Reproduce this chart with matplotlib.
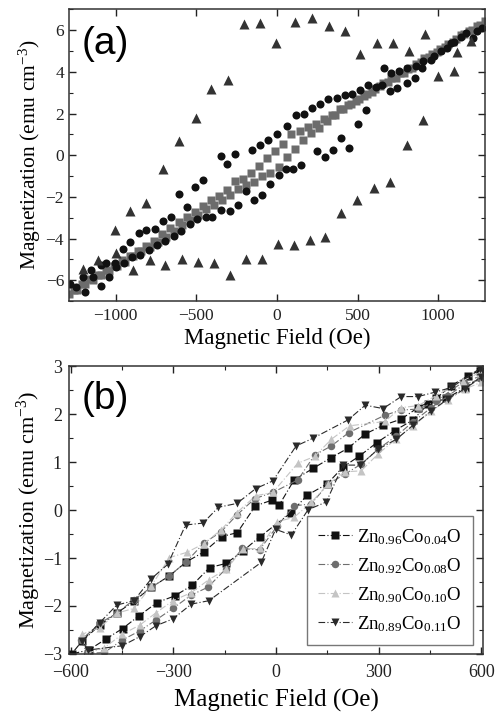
import numpy as np
import matplotlib
matplotlib.use("Agg")
import matplotlib.pyplot as plt
from matplotlib.ticker import MultipleLocator

plt.rcParams['font.family'] = ['Liberation Serif', 'DejaVu Serif']
plt.rcParams['mathtext.fontset'] = 'custom'
plt.rcParams['mathtext.rm'] = 'Liberation Serif'
plt.rcParams['mathtext.it'] = 'Liberation Serif:italic'

# ---------------- panel (a) data ----------------
# black circles
circ_H = [-1285, -1244, -1202, -1192, -1151, -1140, -1093, -1089, -1062, -1041,
          -1006, -996, -954, -948, -909, -897, -857, -851, -810, -795,
          -758, -744, -707, -692, -655, -640, -609, -593, -558, -541,
          -508, -494, -459, -442, -401, -349, -345, -308, -291, -260,
          -242, -190, -157, -143, -105, -91, -56, -43, -2, 12,
          54, 64, 101, 116, 147, 167, 215, 246, 267, 298,
          318, 349, 370, 399, 419, 446, 467, 502, 514, 550,
          564, 612, 653, 663, 700, 709, 746, 756, 804, 808,
          853, 859, 901, 907, 952, 973, 1014, 1052, 1076, 1097,
          1143, 1170, 1217, 1242, 1273]
circ_M = [-6.17, -6.33, -5.85, -6.57, -5.53, -5.85, -6.25, -5.29, -5.18, -5.82,
          -5.16, -5.37, -4.49, -5.18, -4.18, -4.89, -3.75, -4.78, -3.59, -4.54,
          -3.55, -4.33, -3.14, -4.13, -2.98, -3.86, -1.86, -3.62, -2.47, -3.30,
          -1.51, -3.06, -1.20, -2.98, -2.98, -0.06, -2.61, -0.43, -2.69, 0.08,
          -2.37, -1.71, 0.25, -2.15, 0.48, -1.90, 0.72, -1.39, 1.00, -0.96,
          -0.67, 1.40, -0.67, 1.91, -0.46, 1.99, 2.25, 0.18, 2.44, -0.08,
          2.68, 0.24, 2.76, 0.84, 2.88, 0.33, 2.92, 1.48, 3.11, 2.15,
          3.39, 3.27, 3.39, 4.19, 3.08, 3.95, 3.24, 4.03, 3.47, 4.19,
          3.71, 4.27, 4.19, 4.51, 4.59, 4.75, 4.99, 5.15, 5.39, 5.43,
          5.66, 5.86, 5.63, 5.98, 6.10]

# gray squares, descending and ascending branch
sqd_H = [1290, 1240, 1190, 1140, 1090, 1040, 990, 940, 890, 840, 790, 740, 690,
         640, 590, 540, 490, 440, 390, 340, 290, 240, 190, 140, 90, 40, -10,
         -60, -110, -160, -210, -260, -310, -360, -410, -460, -510, -560, -610,
         -660, -710, -760, -810, -860, -910, -960, -1010, -1060, -1110, -1160,
         -1210, -1260]
sqd_M = [6.45, 6.20, 5.95, 5.75, 5.45, 5.20, 4.95, 4.70, 4.45, 4.20, 3.95, 3.70, 3.50,
         3.30, 3.05, 2.85, 2.60, 2.40, 2.20, 1.95, 1.75, 1.50, 1.35, 1.15, 1.00, 0.55, 0.20,
         -0.15, -0.50, -0.85, -1.15, -1.25, -1.65, -1.95, -2.15, -2.45, -2.70, -2.95, -3.20,
         -3.50, -3.80, -4.10, -4.35, -4.60, -4.85, -5.05, -5.30, -5.50, -5.75, -5.95,
         -6.20, -6.45]
squ_H = [-1290, -1240, -1190, -1140, -1090, -1040, -990, -940, -890, -840, -790,
         -740, -690, -640, -590, -540, -490, -440, -390, -340, -290, -240, -190,
         -140, -90, -40, 10, 60, 110, 160, 210, 260, 310, 360, 410, 460, 510,
         560, 610, 660, 710, 760, 810, 860, 910, 960, 1010, 1060, 1110, 1160,
         1210, 1260]
squ_M = [-6.65, -6.45, -6.20, -6.00, -5.75, -5.55, -5.30, -5.10, -4.85, -4.60, -4.40,
         -4.15, -3.90, -3.65, -3.35, -3.10, -2.85, -2.60, -2.40, -2.15, -1.90, -1.60, -1.45,
         -1.30, -1.00, -0.85, -0.55, -0.10, 0.30, 0.75, 1.05, 1.30, 1.65, 1.95, 2.20, 2.45, 2.70,
         2.95, 3.20, 3.45, 3.70, 3.95, 4.15, 4.40, 4.65, 4.85, 5.10, 5.35, 5.60, 5.80,
         6.00, 6.25]

# dark triangles
tri_H = [-1204, -1110, -1004, -996, -893, -913, -810, -789, -707, -694,
         -607, -591, -500, -488, -409, -390, -302, -289, -202, -190,
         -103, -91, -6, 6, 105, 114, 202, 219, 295, 322,
         399, 419, 498, 512, 603, 620, 700, 721, 804, 818,
         903, 915, 1000, 1097, 1118, 1200]
tri_M = [-5.45, -5.05, -3.59, -4.69, -5.50, -2.66, -2.31, -5.02, -0.64, -5.29,
         0.69, -4.97, 1.77, -5.10, 3.20, -5.16, 3.63, -5.74, 6.29, -4.97,
         6.34, -4.97, 5.40, -4.25, -4.30, 6.37, -4.05, 6.58, -3.90, 6.18,
         -2.79, 5.96, -2.15, 4.86, -1.55, 5.37, -1.27, 5.37, 0.49, 4.99,
         1.71, 5.82, 3.78, 4.03, 4.96, 5.50]

# ---------------- panel (b) data ----------------
labels_b = [r'Zn$_{0.96}$Co$_{0.04}$O', r'Zn$_{0.92}$Co$_{0.08}$O',
            r'Zn$_{0.90}$Co$_{0.10}$O', r'Zn$_{0.89}$Co$_{0.11}$O']

# Zn0.96Co0.04O (black squares)
s1_H = [595, 561, 512, 468, 415, 366, 313, 261, 210, 160, 108, 53, 9, -11, -60,
        -113, -158, -210, -262, -311, -364, -415, -465, -515, -566,
        -597, -547, -497, -448, -401, -348, -296, -245, -194, -145, -96, -46,
        43, 91, 150, 196, 244, 295, 347, 400, 444, 498, 551, 600]
s1_M = [2.91, 2.80, 2.60, 2.33, 2.14, 1.90, 1.77, 1.59, 1.29, 1.09, 0.87, 0.63, 0.10, 0.21, 0.09,
        -0.47, -0.55, -0.87, -1.08, -1.37, -1.61, -1.90, -2.15, -2.40, -2.73,
        -3.00, -2.92, -2.69, -2.47, -2.21, -1.93, -1.79, -1.57, -1.20, -1.11, -0.85, -0.55,
        -0.06, 0.31, 0.55, 0.90, 1.13, 1.41, 1.66, 1.88, 2.21, 2.33, 2.55, 2.78]

# Zn0.92Co0.08O (gray circles)
s2_H = [600, 546, 468, 418, 366, 318, 213, 162, 113, 64, -9, -62, -114, -160,
        -211, -262, -313, -364, -415, -465, -515, -569,
        -552, -501, -449, -398, -350, -301, -247, -199, -147, -98, -48, 4,
        53, 103, 152, 201, 249, 298, 352, 400, 454, 502, 551, 600]
s2_M = [2.80, 2.67, 2.28, 2.11, 2.09, 1.98, 1.62, 1.34, 1.15, 0.63, 0.37, 0.24, -0.10, -0.45,
        -0.69, -1.08, -1.38, -1.61, -1.87, -2.15, -2.36, -2.71,
        -2.99, -2.97, -2.71, -2.52, -2.29, -2.05, -1.77, -1.61, -1.23, -0.80, -0.83, -0.33,
        0.09, 0.13, 0.54, 0.75, 0.96, 1.27, 1.55, 1.84, 2.14, 2.38, 2.63, 2.73]

# Zn0.90Co0.10O (light gray up-triangles)
s3_H = [595, 546, 468, 415, 366, 318, 215, 162, 113, 64, -9, -59, -114, -160,
        -211, -260, -311, -364, -415, -465, -515, -566,
        -552, -501, -449, -398, -350, -301, -247, -196, -145, -96, -48, 4,
        53, 103, 152, 201, 249, 298, 350, 400, 454, 502, 553, 600]
s3_M = [2.87, 2.70, 2.39, 2.18, 2.14, 1.85, 1.76, 1.48, 1.12, 0.98, 0.37, 0.30, -0.05, -0.41,
        -0.70, -0.88, -0.99, -1.58, -2.05, -2.15, -2.45, -2.59,
        -2.99, -2.87, -2.59, -2.40, -2.14, -1.89, -1.72, -1.45, -1.23, -0.81, -0.80, -0.24,
        -0.15, 0.16, 0.54, 0.80, 0.82, 1.17, 1.48, 1.75, 2.07, 2.30, 2.53, 2.67]

# Zn0.89Co0.11O (dark down-triangles)
s4_H = [595, 512, 464, 415, 366, 313, 261, 210, 108, 59, -9, -59, -114, -168,
        -213, -264, -316, -364, -415, -465, -515, -566,
        -549, -449, -398, -350, -301, -247, -196, -43, -1, 45, 94, 147, 196,
        247, 298, 352, 400, 454, 502, 551, 600]
s4_M = [2.95, 2.56, 2.46, 2.37, 2.37, 2.12, 2.19, 1.88, 1.50, 1.34, 0.61, 0.45, 0.14, 0.06,
        -0.27, -0.31, -1.13, -1.43, -1.89, -1.98, -2.35, -2.73,
        -2.92, -2.83, -2.64, -2.41, -2.27, -1.96, -1.89, -1.09, -0.40, -0.52, 0.01, 0.17, 0.94,
        0.94, 1.27, 1.48, 1.77, 2.07, 2.32, 2.53, 2.77]

fig = plt.figure(figsize=(4.99, 7.17), dpi=100)
ax1 = fig.add_axes([0.138, 0.580, 0.834, 0.407])
ax2 = fig.add_axes([0.138, 0.088, 0.830, 0.401])

for ax in (ax1, ax2):
    ax.tick_params(which='both', direction='in', top=True, right=True, colors='#222222')
    ax.tick_params(which='major', length=5, width=1)
    ax.tick_params(which='minor', length=3, width=0.8)
    for sp in ax.spines.values():
        sp.set_color('#333333')
        sp.set_linewidth(1.1)

# panel (a)
ax1.plot(sqd_H, sqd_M, 's', color='#6c6c6c', ms=5.2, mec='none')
ax1.plot(squ_H, squ_M, 's', color='#6c6c6c', ms=5.2, mec='none')
ax1.plot(circ_H, circ_M, 'o', color='#111111', ms=5.8, mec='none')
ax1.plot(tri_H, tri_M, '^', color='#333333', ms=7.2, mec='none')
ax1.set_xlim(-1290, 1290)
ax1.set_ylim(-7, 7)
ax1.xaxis.set_major_locator(MultipleLocator(500))
ax1.yaxis.set_major_locator(MultipleLocator(2))
ax1.yaxis.set_minor_locator(MultipleLocator(1))
ax1.tick_params(labelsize=12.5)
ax1.tick_params(axis='x', pad=5)
ax1.set_xlabel('Magnetic Field (Oe)', fontsize=16.5, labelpad=3)
ax1.set_ylabel(r'Magnetization (emu cm$^{-3}$)', fontsize=15.5, labelpad=2)
ax1.text(0.03, 0.88, '(a)', transform=ax1.transAxes, fontsize=28,
         family='Liberation Sans', va='center', ha='left')

# panel (b)
styles = [('s', '#111111'), ('o', '#6e6e6e'), ('^', '#c4c4c4'), ('v', '#2a2a2a')]
series = [(s1_H, s1_M), (s2_H, s2_M), (s3_H, s3_M), (s4_H, s4_M)]
for (h, m), (mk, c), lab in zip(series, styles, labels_b):
    ax2.plot(h, m, marker=mk, color=c, ms=5.4, mec='none', lw=0.8,
             ls=(0, (6, 2, 1, 2)), label=lab)
ax2.set_xlim(-605, 605)
ax2.set_ylim(-3, 3)
ax2.xaxis.set_major_locator(MultipleLocator(300))
ax2.xaxis.set_minor_locator(MultipleLocator(150))
ax2.yaxis.set_major_locator(MultipleLocator(1))
ax2.yaxis.set_minor_locator(MultipleLocator(0.5))
ax2.set_xticks([-600, -300, 0, 300, 600])
ax2.tick_params(labelsize=13)
ax2.tick_params(axis='x', pad=7)
ax2.tick_params(axis='y', pad=5)
ax2.set_xlabel('Magnetic Field (Oe)', fontsize=18, labelpad=6)
ax2.set_ylabel(r'Magnetization (emu cm$^{-3}$)', fontsize=16, labelpad=0)
ax2.text(0.03, 0.885, '(b)', transform=ax2.transAxes, fontsize=28,
         family='Liberation Sans', va='center', ha='left')
leg = ax2.legend(loc='lower right', bbox_to_anchor=(0.976, 0.031), borderaxespad=0,
                 fontsize=13.5, fancybox=False, edgecolor='#555555', handlelength=1.8,
                 handletextpad=0.3, borderpad=0.6, labelspacing=0.5)
leg.get_frame().set_linewidth(1.0)

fig.savefig('out.png', dpi=100)
